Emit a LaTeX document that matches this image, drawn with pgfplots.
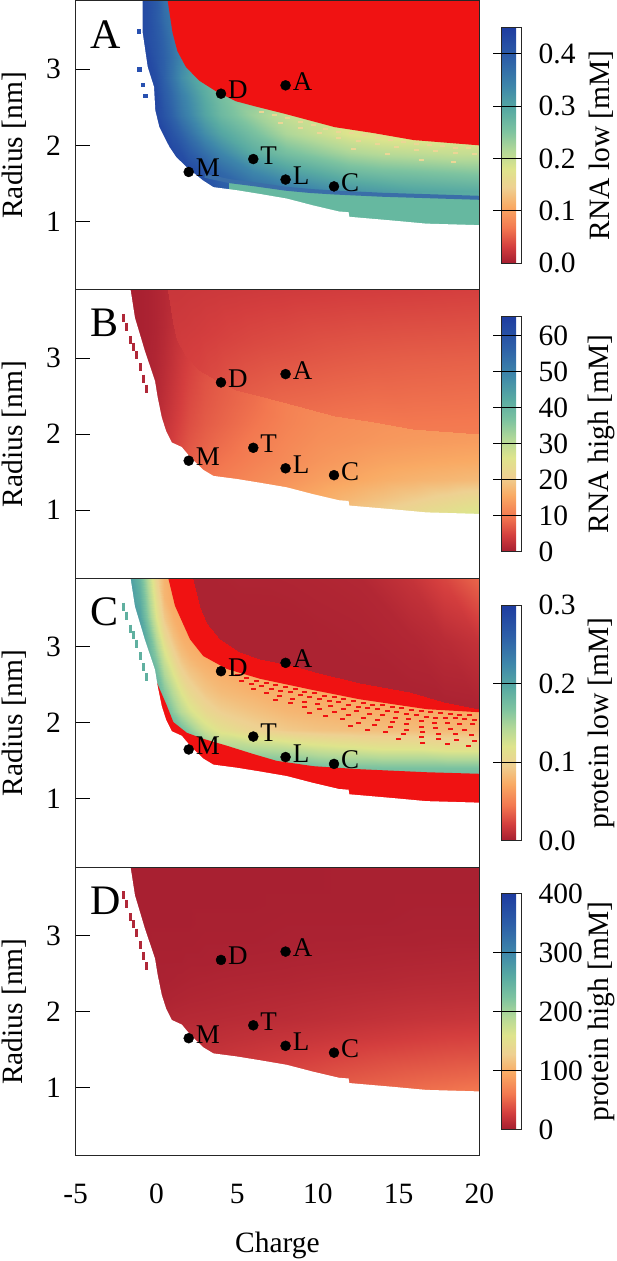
\documentclass[border=0pt]{standalone}
\usepackage{fontspec}
\setmainfont{Liberation Serif}
\usepackage{pgfplots}
\usepackage{pgfplotstable}
\pgfplotsset{compat=1.18}
\definecolor{brred}{RGB}{240,18,18}
\definecolor{subband}{RGB}{102,184,160}
\definecolor{stripe}{RGB}{58,110,168}
\definecolor{paleY}{RGB}{236,214,150}
\newcommand{\fs}{\fontsize{29.5}{30}\selectfont}

% ---------- data ----------
\pgfplotstableread[row sep=\\]{x y v\\
-2 0.9 0.42\\ -1 0.9 0.42\\ -0.5 0.9 0.42\\ 0 0.9 0.42\\ 0.5 0.9 0.42\\ 1 0.9 0.42\\ 1.5 0.9 0.42\\ 2 0.9 0.42\\ 3 0.9 0.42\\ 4 0.9 0.40\\ 6 0.9 0.30\\ 8 0.9 0.28\\ 10 0.9 0.28\\ 12 0.9 0.28\\ 14 0.9 0.28\\ 16 0.9 0.28\\ 18 0.9 0.28\\ 20 0.9 0.28\\
-2 1.15 0.42\\ -1 1.15 0.42\\ -0.5 1.15 0.42\\ 0 1.15 0.42\\ 0.5 1.15 0.42\\ 1 1.15 0.42\\ 1.5 1.15 0.42\\ 2 1.15 0.42\\ 3 1.15 0.42\\ 4 1.15 0.40\\ 6 1.15 0.36\\ 8 1.15 0.33\\ 10 1.15 0.30\\ 12 1.15 0.28\\ 14 1.15 0.28\\ 16 1.15 0.28\\ 18 1.15 0.28\\ 20 1.15 0.28\\
-2 1.4 0.43\\ -1 1.4 0.43\\ -0.5 1.4 0.43\\ 0 1.4 0.43\\ 0.5 1.4 0.43\\ 1 1.4 0.43\\ 1.5 1.4 0.43\\ 2 1.4 0.43\\ 3 1.4 0.42\\ 4 1.4 0.40\\ 6 1.4 0.38\\ 8 1.4 0.36\\ 10 1.4 0.34\\ 12 1.4 0.32\\ 14 1.4 0.31\\ 16 1.4 0.30\\ 18 1.4 0.295\\ 20 1.4 0.29\\
-2 1.65 0.43\\ -1 1.65 0.43\\ -0.5 1.65 0.43\\ 0 1.65 0.43\\ 0.5 1.65 0.43\\ 1 1.65 0.43\\ 1.5 1.65 0.43\\ 2 1.65 0.43\\ 3 1.65 0.41\\ 4 1.65 0.38\\ 6 1.65 0.34\\ 8 1.65 0.31\\ 10 1.65 0.29\\ 12 1.65 0.27\\ 14 1.65 0.26\\ 16 1.65 0.255\\ 18 1.65 0.25\\ 20 1.65 0.245\\
-2 1.9 0.44\\ -1 1.9 0.44\\ -0.5 1.9 0.44\\ 0 1.9 0.44\\ 0.5 1.9 0.44\\ 1 1.9 0.43\\ 1.5 1.9 0.42\\ 2 1.9 0.40\\ 3 1.9 0.37\\ 4 1.9 0.34\\ 6 1.9 0.29\\ 8 1.9 0.26\\ 10 1.9 0.24\\ 12 1.9 0.22\\ 14 1.9 0.21\\ 16 1.9 0.205\\ 18 1.9 0.20\\ 20 1.9 0.20\\
-2 2.15 0.44\\ -1 2.15 0.44\\ -0.5 2.15 0.44\\ 0 2.15 0.44\\ 0.5 2.15 0.43\\ 1 2.15 0.41\\ 1.5 2.15 0.39\\ 2 2.15 0.37\\ 3 2.15 0.33\\ 4 2.15 0.30\\ 6 2.15 0.26\\ 8 2.15 0.22\\ 10 2.15 0.20\\ 12 2.15 0.18\\ 14 2.15 0.17\\ 16 2.15 0.17\\ 18 2.15 0.17\\ 20 2.15 0.17\\
-2 2.4 0.44\\ -1 2.4 0.44\\ -0.5 2.4 0.44\\ 0 2.4 0.43\\ 0.5 2.4 0.41\\ 1 2.4 0.385\\ 1.5 2.4 0.36\\ 2 2.4 0.34\\ 3 2.4 0.30\\ 4 2.4 0.27\\ 6 2.4 0.23\\ 8 2.4 0.20\\ 10 2.4 0.19\\ 12 2.4 0.18\\ 14 2.4 0.17\\ 16 2.4 0.17\\ 18 2.4 0.17\\ 20 2.4 0.17\\
-2 2.65 0.44\\ -1 2.65 0.44\\ -0.5 2.65 0.44\\ 0 2.65 0.43\\ 0.5 2.65 0.40\\ 1 2.65 0.375\\ 1.5 2.65 0.35\\ 2 2.65 0.33\\ 3 2.65 0.29\\ 4 2.65 0.26\\ 6 2.65 0.24\\ 8 2.65 0.22\\ 10 2.65 0.20\\ 12 2.65 0.20\\ 14 2.65 0.20\\ 16 2.65 0.20\\ 18 2.65 0.20\\ 20 2.65 0.20\\
-2 2.9 0.44\\ -1 2.9 0.44\\ -0.5 2.9 0.43\\ 0 2.9 0.42\\ 0.5 2.9 0.39\\ 1 2.9 0.36\\ 1.5 2.9 0.33\\ 2 2.9 0.31\\ 3 2.9 0.28\\ 4 2.9 0.27\\ 6 2.9 0.26\\ 8 2.9 0.25\\ 10 2.9 0.25\\ 12 2.9 0.25\\ 14 2.9 0.25\\ 16 2.9 0.25\\ 18 2.9 0.25\\ 20 2.9 0.25\\
-2 3.15 0.44\\ -1 3.15 0.44\\ -0.5 3.15 0.43\\ 0 3.15 0.41\\ 0.5 3.15 0.39\\ 1 3.15 0.365\\ 1.5 3.15 0.34\\ 2 3.15 0.32\\ 3 3.15 0.30\\ 4 3.15 0.29\\ 6 3.15 0.28\\ 8 3.15 0.28\\ 10 3.15 0.28\\ 12 3.15 0.28\\ 14 3.15 0.28\\ 16 3.15 0.28\\ 18 3.15 0.28\\ 20 3.15 0.28\\
-2 3.4 0.44\\ -1 3.4 0.43\\ -0.5 3.4 0.42\\ 0 3.4 0.405\\ 0.5 3.4 0.385\\ 1 3.4 0.36\\ 1.5 3.4 0.345\\ 2 3.4 0.33\\ 3 3.4 0.31\\ 4 3.4 0.30\\ 6 3.4 0.30\\ 8 3.4 0.30\\ 10 3.4 0.30\\ 12 3.4 0.30\\ 14 3.4 0.30\\ 16 3.4 0.30\\ 18 3.4 0.30\\ 20 3.4 0.30\\
-2 3.65 0.44\\ -1 3.65 0.43\\ -0.5 3.65 0.42\\ 0 3.65 0.40\\ 0.5 3.65 0.375\\ 1 3.65 0.355\\ 1.5 3.65 0.34\\ 2 3.65 0.33\\ 3 3.65 0.31\\ 4 3.65 0.30\\ 6 3.65 0.30\\ 8 3.65 0.30\\ 10 3.65 0.30\\ 12 3.65 0.30\\ 14 3.65 0.30\\ 16 3.65 0.30\\ 18 3.65 0.30\\ 20 3.65 0.30\\
-2 3.9 0.44\\ -1 3.9 0.43\\ -0.5 3.9 0.42\\ 0 3.9 0.40\\ 0.5 3.9 0.37\\ 1 3.9 0.35\\ 1.5 3.9 0.34\\ 2 3.9 0.33\\ 3 3.9 0.31\\ 4 3.9 0.30\\ 6 3.9 0.30\\ 8 3.9 0.30\\ 10 3.9 0.30\\ 12 3.9 0.30\\ 14 3.9 0.30\\ 16 3.9 0.30\\ 18 3.9 0.30\\ 20 3.9 0.30\\
}\tabA

\pgfplotstableread[row sep=\\]{x y v\\
-2 0.9 2\\ -1 0.9 4\\ -0.5 0.9 5\\ 0 0.9 6\\ 0.5 0.9 7\\ 1 0.9 8\\ 1.5 0.9 9\\ 2 0.9 10\\ 3 0.9 11\\ 4 0.9 12\\ 6 0.9 13\\ 8 0.9 15.5\\ 10 0.9 18\\ 12 0.9 20\\ 14 0.9 22\\ 16 0.9 24\\ 18 0.9 26\\ 20 0.9 28\\
-2 1.15 2\\ -1 1.15 4\\ -0.5 1.15 5\\ 0 1.15 6\\ 0.5 1.15 7\\ 1 1.15 8\\ 1.5 1.15 9\\ 2 1.15 10\\ 3 1.15 11\\ 4 1.15 12\\ 6 1.15 13\\ 8 1.15 14.5\\ 10 1.15 16\\ 12 1.15 17.5\\ 14 1.15 19\\ 16 1.15 20.5\\ 18 1.15 22\\ 20 1.15 23.5\\
-2 1.4 2\\ -1 1.4 4\\ -0.5 1.4 5\\ 0 1.4 6\\ 0.5 1.4 7\\ 1 1.4 8\\ 1.5 1.4 9\\ 2 1.4 9.5\\ 3 1.4 10\\ 4 1.4 10.5\\ 6 1.4 11.8\\ 8 1.4 13\\ 10 1.4 14.3\\ 12 1.4 15.3\\ 14 1.4 16.3\\ 16 1.4 17\\ 18 1.4 17.5\\ 20 1.4 18\\
-2 1.65 1.5\\ -1 1.65 3\\ -0.5 1.65 4\\ 0 1.65 5\\ 0.5 1.65 6\\ 1 1.65 6.5\\ 1.5 1.65 7\\ 2 1.65 7.3\\ 3 1.65 8.5\\ 4 1.65 9.5\\ 6 1.65 10.8\\ 8 1.65 12\\ 10 1.65 13.2\\ 12 1.65 14\\ 14 1.65 14.8\\ 16 1.65 15.2\\ 18 1.65 15.5\\ 20 1.65 15.8\\
-2 1.9 0.6\\ -1 1.9 1.0\\ -0.5 1.9 1.5\\ 0 1.9 2.5\\ 0.5 1.9 3.5\\ 1 1.9 4.5\\ 1.5 1.9 5.6\\ 2 1.9 6.6\\ 3 1.9 7.8\\ 4 1.9 8.7\\ 6 1.9 10.2\\ 8 1.9 11.5\\ 10 1.9 12.5\\ 12 1.9 13\\ 14 1.9 13.5\\ 16 1.9 13.8\\ 18 1.9 14\\ 20 1.9 14.2\\
-2 2.15 0.5\\ -1 2.15 0.8\\ -0.5 2.15 1.1\\ 0 2.15 1.8\\ 0.5 2.15 3.0\\ 1 2.15 4.0\\ 1.5 2.15 5.0\\ 2 2.15 6.0\\ 3 2.15 7.2\\ 4 2.15 8.0\\ 6 2.15 9.5\\ 8 2.15 11\\ 10 2.15 12\\ 12 2.15 12.5\\ 14 2.15 13\\ 16 2.15 13.2\\ 18 2.15 13.4\\ 20 2.15 13.6\\
-2 2.4 0.4\\ -1 2.4 0.6\\ -0.5 2.4 0.9\\ 0 2.4 1.5\\ 0.5 2.4 2.5\\ 1 2.4 3.6\\ 1.5 2.4 4.6\\ 2 2.4 5.6\\ 3 2.4 6.8\\ 4 2.4 7.6\\ 6 2.4 9.0\\ 8 2.4 10.8\\ 10 2.4 11.5\\ 12 2.4 12\\ 14 2.4 12\\ 16 2.4 12\\ 18 2.4 12\\ 20 2.4 12\\
-2 2.65 0.3\\ -1 2.65 0.5\\ -0.5 2.65 0.8\\ 0 2.65 1.3\\ 0.5 2.65 2.2\\ 1 2.65 3.3\\ 1.5 2.65 4.3\\ 2 2.65 5.2\\ 3 2.65 6.5\\ 4 2.65 7.3\\ 6 2.65 8.5\\ 8 2.65 9.5\\ 10 2.65 10\\ 12 2.65 10\\ 14 2.65 10\\ 16 2.65 10\\ 18 2.65 10\\ 20 2.65 10\\
-2 2.9 0.3\\ -1 2.9 0.4\\ -0.5 2.9 0.7\\ 0 2.9 1.2\\ 0.5 2.9 2.0\\ 1 2.9 3.0\\ 1.5 2.9 4.0\\ 2 2.9 4.8\\ 3 2.9 6.0\\ 4 2.9 6.8\\ 6 2.9 7.5\\ 8 2.9 8\\ 10 2.9 8\\ 12 2.9 8\\ 14 2.9 8\\ 16 2.9 8\\ 18 2.9 8\\ 20 2.9 8\\
-2 3.15 0.3\\ -1 3.15 0.4\\ -0.5 3.15 0.7\\ 0 3.15 1.1\\ 0.5 3.15 1.8\\ 1 3.15 2.8\\ 1.5 3.15 3.6\\ 2 3.15 4.3\\ 3 3.15 5.2\\ 4 3.15 6\\ 6 3.15 6\\ 8 3.15 6\\ 10 3.15 6\\ 12 3.15 6\\ 14 3.15 6\\ 16 3.15 6\\ 18 3.15 6\\ 20 3.15 6\\
-2 3.4 0.3\\ -1 3.4 0.4\\ -0.5 3.4 0.6\\ 0 3.4 1.0\\ 0.5 3.4 1.6\\ 1 3.4 2.5\\ 1.5 3.4 3.2\\ 2 3.4 3.8\\ 3 3.4 4.5\\ 4 3.4 5\\ 6 3.4 5\\ 8 3.4 5\\ 10 3.4 5\\ 12 3.4 5\\ 14 3.4 5\\ 16 3.4 5\\ 18 3.4 5\\ 20 3.4 5\\
-2 3.65 0.3\\ -1 3.65 0.4\\ -0.5 3.65 0.6\\ 0 3.65 1.0\\ 0.5 3.65 1.5\\ 1 3.65 2.2\\ 1.5 3.65 2.8\\ 2 3.65 3.3\\ 3 3.65 4\\ 4 3.65 4.5\\ 6 3.65 4.5\\ 8 3.65 4.5\\ 10 3.65 4.5\\ 12 3.65 4.5\\ 14 3.65 4.5\\ 16 3.65 4.5\\ 18 3.65 4.5\\ 20 3.65 4.5\\
-2 3.9 0.3\\ -1 3.9 0.4\\ -0.5 3.9 0.6\\ 0 3.9 1.0\\ 0.5 3.9 1.5\\ 1 3.9 2.0\\ 1.5 3.9 2.5\\ 2 3.9 3.0\\ 3 3.9 3.5\\ 4 3.9 4\\ 6 3.9 4\\ 8 3.9 4\\ 10 3.9 4\\ 12 3.9 4\\ 14 3.9 4\\ 16 3.9 4\\ 18 3.9 4\\ 20 3.9 4\\
}\tabB

\pgfplotstableread[row sep=\\]{x y v\\
0.7 3.9 3.5\\ 1.0 3.48 3.8\\ 1.3 3.24 4.0\\ 1.83 3.03 4.5\\ 2.66 2.85 5.0\\ 3.7 2.71 5.8\\ 4.93 2.58 6.8\\ 6.17 2.51 7.5\\ 7.87 2.42 8.3\\ 11.04 2.24 9.3\\ 13.5 2.16 9.8\\ 15.92 2.07 10.0\\ 20 2.0 10.3\\
0.7 3.9 3.5\\ 1.0 3.69 3.7\\ 1.3 3.57 3.8\\ 1.83 3.465 4.0\\ 2.66 3.375 4.3\\ 3.7 3.305 4.7\\ 4.93 3.24 5.2\\ 6.17 3.205 5.6\\ 7.87 3.16 6.0\\ 11.04 3.07 6.8\\ 13.5 3.03 7.2\\ 15.92 2.985 7.5\\ 20 2.95 7.8\\
0.7 3.9 3.5\\ 1.0 3.9 3.5\\ 1.3 3.9 3.5\\ 1.83 3.9 3.6\\ 2.66 3.9 3.7\\ 3.7 3.9 3.8\\ 4.93 3.9 3.9\\ 6.17 3.9 4.0\\ 7.87 3.9 4.1\\ 11.04 3.9 4.3\\ 13.5 3.9 4.4\\ 15.92 3.9 4.5\\ 20 3.9 4.7\\
}\tabBup

\pgfplotstableread[row sep=\\]{x y v\\
-2 0.9 0.19\\ -1 0.9 0.19\\ -0.5 0.9 0.19\\ 0 0.9 0.19\\ 0.5 0.9 0.19\\ 1 0.9 0.19\\ 1.5 0.9 0.19\\ 2 0.9 0.19\\ 3 0.9 0.19\\ 4 0.9 0.19\\ 6 0.9 0.19\\ 8 0.9 0.19\\ 10 0.9 0.19\\ 12 0.9 0.19\\ 14 0.9 0.19\\ 16 0.9 0.19\\ 18 0.9 0.19\\ 20 0.9 0.19\\
-2 1.15 0.19\\ -1 1.15 0.19\\ -0.5 1.15 0.19\\ 0 1.15 0.19\\ 0.5 1.15 0.19\\ 1 1.15 0.19\\ 1.5 1.15 0.19\\ 2 1.15 0.19\\ 3 1.15 0.19\\ 4 1.15 0.19\\ 6 1.15 0.19\\ 8 1.15 0.19\\ 10 1.15 0.19\\ 12 1.15 0.19\\ 14 1.15 0.19\\ 16 1.15 0.19\\ 18 1.15 0.19\\ 20 1.15 0.19\\
-2 1.4 0.22\\ -1 1.4 0.22\\ -0.5 1.4 0.22\\ 0 1.4 0.22\\ 0.5 1.4 0.21\\ 1 1.4 0.20\\ 1.5 1.4 0.20\\ 2 1.4 0.20\\ 3 1.4 0.19\\ 4 1.4 0.19\\ 6 1.4 0.18\\ 8 1.4 0.18\\ 10 1.4 0.175\\ 12 1.4 0.17\\ 14 1.4 0.17\\ 16 1.4 0.17\\ 18 1.4 0.17\\ 20 1.4 0.17\\
-2 1.65 0.22\\ -1 1.65 0.22\\ -0.5 1.65 0.22\\ 0 1.65 0.22\\ 0.5 1.65 0.21\\ 1 1.65 0.20\\ 1.5 1.65 0.20\\ 2 1.65 0.19\\ 3 1.65 0.17\\ 4 1.65 0.15\\ 6 1.65 0.145\\ 8 1.65 0.14\\ 10 1.65 0.13\\ 12 1.65 0.125\\ 14 1.65 0.12\\ 16 1.65 0.12\\ 18 1.65 0.115\\ 20 1.65 0.115\\
-2 1.9 0.22\\ -1 1.9 0.22\\ -0.5 1.9 0.22\\ 0 1.9 0.21\\ 0.5 1.9 0.20\\ 1 1.9 0.19\\ 1.5 1.9 0.175\\ 2 1.9 0.16\\ 3 1.9 0.13\\ 4 1.9 0.115\\ 6 1.9 0.10\\ 8 1.9 0.092\\ 10 1.9 0.088\\ 12 1.9 0.086\\ 14 1.9 0.085\\ 16 1.9 0.084\\ 18 1.9 0.082\\ 20 1.9 0.08\\
-2 2.15 0.22\\ -1 2.15 0.21\\ -0.5 2.15 0.20\\ 0 2.15 0.195\\ 0.5 2.15 0.185\\ 1 2.15 0.16\\ 1.5 2.15 0.14\\ 2 2.15 0.125\\ 3 2.15 0.105\\ 4 2.15 0.095\\ 6 2.15 0.087\\ 8 2.15 0.08\\ 10 2.15 0.077\\ 12 2.15 0.075\\ 14 2.15 0.074\\ 16 2.15 0.073\\ 18 2.15 0.072\\ 20 2.15 0.072\\
-2 2.4 0.22\\ -1 2.4 0.21\\ -0.5 2.4 0.20\\ 0 2.4 0.19\\ 0.5 2.4 0.165\\ 1 2.4 0.14\\ 1.5 2.4 0.12\\ 2 2.4 0.105\\ 3 2.4 0.09\\ 4 2.4 0.083\\ 6 2.4 0.077\\ 8 2.4 0.074\\ 10 2.4 0.072\\ 12 2.4 0.072\\ 14 2.4 0.072\\ 16 2.4 0.072\\ 18 2.4 0.072\\ 20 2.4 0.072\\
-2 2.65 0.22\\ -1 2.65 0.21\\ -0.5 2.65 0.20\\ 0 2.65 0.18\\ 0.5 2.65 0.145\\ 1 2.65 0.12\\ 1.5 2.65 0.10\\ 2 2.65 0.09\\ 3 2.65 0.08\\ 4 2.65 0.075\\ 6 2.65 0.072\\ 8 2.65 0.072\\ 10 2.65 0.072\\ 12 2.65 0.072\\ 14 2.65 0.072\\ 16 2.65 0.072\\ 18 2.65 0.072\\ 20 2.65 0.072\\
-2 2.9 0.22\\ -1 2.9 0.21\\ -0.5 2.9 0.19\\ 0 2.9 0.16\\ 0.5 2.9 0.125\\ 1 2.9 0.10\\ 1.5 2.9 0.085\\ 2 2.9 0.078\\ 3 2.9 0.072\\ 4 2.9 0.072\\ 6 2.9 0.072\\ 8 2.9 0.072\\ 10 2.9 0.072\\ 12 2.9 0.072\\ 14 2.9 0.072\\ 16 2.9 0.072\\ 18 2.9 0.072\\ 20 2.9 0.072\\
-2 3.15 0.22\\ -1 3.15 0.21\\ -0.5 3.15 0.18\\ 0 3.15 0.14\\ 0.5 3.15 0.105\\ 1 3.15 0.085\\ 1.5 3.15 0.075\\ 2 3.15 0.072\\ 3 3.15 0.072\\ 4 3.15 0.072\\ 6 3.15 0.072\\ 8 3.15 0.072\\ 10 3.15 0.072\\ 12 3.15 0.072\\ 14 3.15 0.072\\ 16 3.15 0.072\\ 18 3.15 0.072\\ 20 3.15 0.072\\
-2 3.4 0.22\\ -1 3.4 0.20\\ -0.5 3.4 0.16\\ 0 3.4 0.12\\ 0.5 3.4 0.09\\ 1 3.4 0.075\\ 1.5 3.4 0.072\\ 2 3.4 0.072\\ 3 3.4 0.072\\ 4 3.4 0.072\\ 6 3.4 0.072\\ 8 3.4 0.072\\ 10 3.4 0.072\\ 12 3.4 0.072\\ 14 3.4 0.072\\ 16 3.4 0.072\\ 18 3.4 0.072\\ 20 3.4 0.072\\
-2 3.65 0.22\\ -1 3.65 0.19\\ -0.5 3.65 0.15\\ 0 3.65 0.11\\ 0.5 3.65 0.08\\ 1 3.65 0.072\\ 1.5 3.65 0.072\\ 2 3.65 0.072\\ 3 3.65 0.072\\ 4 3.65 0.072\\ 6 3.65 0.072\\ 8 3.65 0.072\\ 10 3.65 0.072\\ 12 3.65 0.072\\ 14 3.65 0.072\\ 16 3.65 0.072\\ 18 3.65 0.072\\ 20 3.65 0.072\\
-2 3.9 0.22\\ -1 3.9 0.18\\ -0.5 3.9 0.14\\ 0 3.9 0.10\\ 0.5 3.9 0.078\\ 1 3.9 0.072\\ 1.5 3.9 0.072\\ 2 3.9 0.072\\ 3 3.9 0.072\\ 4 3.9 0.072\\ 6 3.9 0.072\\ 8 3.9 0.072\\ 10 3.9 0.072\\ 12 3.9 0.072\\ 14 3.9 0.072\\ 16 3.9 0.072\\ 18 3.9 0.072\\ 20 3.9 0.072\\
}\tabC

\pgfplotstableread[row sep=\\]{x y v\\
2.29 3.9 0.003\\ 2.70 3.54 0.003\\ 3.11 3.32 0.003\\ 3.94 3.10 0.003\\ 5.18 2.93 0.003\\ 6.42 2.84 0.003\\ 8.5 2.75 0.003\\ 10.1 2.66 0.003\\ 12.6 2.53 0.003\\ 15.7 2.40 0.003\\ 17.8 2.27 0.003\\ 20 2.18 0.003\\
2.29 3.9 0.003\\ 2.70 3.72 0.003\\ 3.11 3.61 0.003\\ 3.94 3.50 0.003\\ 5.18 3.415 0.003\\ 6.42 3.37 0.003\\ 8.5 3.325 0.003\\ 10.1 3.28 0.0035\\ 12.6 3.215 0.004\\ 15.7 3.15 0.006\\ 17.8 3.085 0.009\\ 20 3.04 0.013\\
2.29 3.9 0.003\\ 2.70 3.9 0.003\\ 3.11 3.9 0.003\\ 3.94 3.9 0.0035\\ 5.18 3.9 0.004\\ 6.42 3.9 0.004\\ 8.5 3.9 0.0045\\ 10.1 3.9 0.005\\ 12.6 3.9 0.006\\ 15.7 3.9 0.014\\ 17.8 3.9 0.024\\ 20 3.9 0.038\\
}\tabCup

\pgfplotstableread[row sep=\\]{x y v\\
-2 0.9 10\\ -1 0.9 12\\ -0.5 0.9 14\\ 0 0.9 16\\ 0.5 0.9 18\\ 1 0.9 20\\ 1.5 0.9 22\\ 2 0.9 24\\ 3 0.9 28\\ 4 0.9 30\\ 6 0.9 34\\ 8 0.9 38\\ 10 0.9 45\\ 12 0.9 50\\ 14 0.9 54\\ 16 0.9 57\\ 18 0.9 60\\ 20 0.9 63\\
-2 1.15 10\\ -1 1.15 12\\ -0.5 1.15 14\\ 0 1.15 16\\ 0.5 1.15 18\\ 1 1.15 20\\ 1.5 1.15 22\\ 2 1.15 24\\ 3 1.15 26\\ 4 1.15 28\\ 6 1.15 30\\ 8 1.15 33\\ 10 1.15 37\\ 12 1.15 41\\ 14 1.15 44\\ 16 1.15 47\\ 18 1.15 49\\ 20 1.15 51\\
-2 1.4 8\\ -1 1.4 10\\ -0.5 1.4 12\\ 0 1.4 13\\ 0.5 1.4 14\\ 1 1.4 15\\ 1.5 1.4 16\\ 2 1.4 17\\ 3 1.4 18\\ 4 1.4 20\\ 6 1.4 23\\ 8 1.4 26\\ 10 1.4 29\\ 12 1.4 32\\ 14 1.4 35\\ 16 1.4 37\\ 18 1.4 39\\ 20 1.4 40\\
-2 1.65 6\\ -1 1.65 8\\ -0.5 1.65 9\\ 0 1.65 10\\ 0.5 1.65 11\\ 1 1.65 12\\ 1.5 1.65 13\\ 2 1.65 14\\ 3 1.65 14.5\\ 4 1.65 15\\ 6 1.65 17\\ 8 1.65 19\\ 10 1.65 21\\ 12 1.65 23\\ 14 1.65 25\\ 16 1.65 27\\ 18 1.65 29\\ 20 1.65 30\\
-2 1.9 4\\ -1 1.9 5\\ -0.5 1.9 6\\ 0 1.9 7\\ 0.5 1.9 8\\ 1 1.9 9\\ 1.5 1.9 9.5\\ 2 1.9 10\\ 3 1.9 10.5\\ 4 1.9 11\\ 6 1.9 12\\ 8 1.9 13\\ 10 1.9 14.5\\ 12 1.9 16\\ 14 1.9 17.5\\ 16 1.9 19\\ 18 1.9 20\\ 20 1.9 21\\
-2 2.15 3\\ -1 2.15 3.5\\ -0.5 2.15 4\\ 0 2.15 4.5\\ 0.5 2.15 5\\ 1 2.15 6\\ 1.5 2.15 6.5\\ 2 2.15 7\\ 3 2.15 7.5\\ 4 2.15 8\\ 6 2.15 9\\ 8 2.15 10\\ 10 2.15 11\\ 12 2.15 12\\ 14 2.15 13\\ 16 2.15 14\\ 18 2.15 14.5\\ 20 2.15 15\\
-2 2.4 2.5\\ -1 2.4 3\\ -0.5 2.4 3\\ 0 2.4 3\\ 0.5 2.4 3.5\\ 1 2.4 4\\ 1.5 2.4 4.5\\ 2 2.4 5\\ 3 2.4 5.5\\ 4 2.4 6\\ 6 2.4 6.5\\ 8 2.4 7\\ 10 2.4 8\\ 12 2.4 8.5\\ 14 2.4 9\\ 16 2.4 10\\ 18 2.4 10.5\\ 20 2.4 11\\
-2 2.65 2\\ -1 2.65 2.5\\ -0.5 2.65 2.5\\ 0 2.65 3\\ 0.5 2.65 3\\ 1 2.65 3\\ 1.5 2.65 3\\ 2 2.65 3.5\\ 3 2.65 3.5\\ 4 2.65 4\\ 6 2.65 4.5\\ 8 2.65 5\\ 10 2.65 5.5\\ 12 2.65 6\\ 14 2.65 6.5\\ 16 2.65 7\\ 18 2.65 7.5\\ 20 2.65 8\\
-2 2.9 2\\ -1 2.9 2\\ -0.5 2.9 2\\ 0 2.9 2.5\\ 0.5 2.9 2.5\\ 1 2.9 2.5\\ 1.5 2.9 2.5\\ 2 2.9 2.5\\ 3 2.9 3\\ 4 2.9 3\\ 6 2.9 3\\ 8 2.9 3.5\\ 10 2.9 4\\ 12 2.9 4\\ 14 2.9 4.5\\ 16 2.9 4.5\\ 18 2.9 5\\ 20 2.9 5\\
-2 3.15 2\\ -1 3.15 2\\ -0.5 3.15 2\\ 0 3.15 2\\ 0.5 3.15 2\\ 1 3.15 2\\ 1.5 3.15 2\\ 2 3.15 2\\ 3 3.15 2.5\\ 4 3.15 2.5\\ 6 3.15 2.5\\ 8 3.15 3\\ 10 3.15 3\\ 12 3.15 3\\ 14 3.15 3\\ 16 3.15 3.5\\ 18 3.15 3.5\\ 20 3.15 3.5\\
-2 3.4 2\\ -1 3.4 2\\ -0.5 3.4 2\\ 0 3.4 2\\ 0.5 3.4 2\\ 1 3.4 2\\ 1.5 3.4 2\\ 2 3.4 2\\ 3 3.4 2\\ 4 3.4 2\\ 6 3.4 2\\ 8 3.4 2.5\\ 10 3.4 2.5\\ 12 3.4 2.5\\ 14 3.4 2.5\\ 16 3.4 3\\ 18 3.4 3\\ 20 3.4 3\\
-2 3.65 2\\ -1 3.65 2\\ -0.5 3.65 2\\ 0 3.65 2\\ 0.5 3.65 2\\ 1 3.65 2\\ 1.5 3.65 2\\ 2 3.65 2\\ 3 3.65 2\\ 4 3.65 2\\ 6 3.65 2\\ 8 3.65 2\\ 10 3.65 2\\ 12 3.65 2.5\\ 14 3.65 2.5\\ 16 3.65 2.5\\ 18 3.65 2.5\\ 20 3.65 2.5\\
-2 3.9 2\\ -1 3.9 2\\ -0.5 3.9 2\\ 0 3.9 2\\ 0.5 3.9 2\\ 1 3.9 2\\ 1.5 3.9 2\\ 2 3.9 2\\ 3 3.9 2\\ 4 3.9 2\\ 6 3.9 2\\ 8 3.9 2\\ 10 3.9 2\\ 12 3.9 2.5\\ 14 3.9 2.5\\ 16 3.9 2.5\\ 18 3.9 2.5\\ 20 3.9 2.5\\
}\tabD

\pgfplotstableread[row sep=\\]{x y lab\\ 2 1.65 M\\ 4 2.68 D\\ 6 1.82 T\\ 8 2.79 A\\ 8 1.55 L\\ 11 1.46 C\\}\pts
\pgfplotstableread[row sep=\\]{x y\\ -2.05 3.53\\ -1.85 3.41\\ -1.6 3.24\\ -1.4 3.15\\ -1.25 3.04\\ -1.0 2.88\\ -0.8 2.73\\ -0.6 2.60\\}\dashes
\pgfplotstableread[row sep=\\]{x y\\ -1.1 3.5\\ -1.07 3.0\\ -0.86 2.8\\ -0.7 2.65\\}\dotsA
\pgfplotstableread[row sep=\\]{x y\\
5.0 2.63\\ 5.6 2.59\\ 6.2 2.55\\ 6.8 2.52\\ 7.4 2.50\\ 8.0 2.47\\ 8.6 2.44\\ 9.2 2.41\\ 9.8 2.39\\ 10.4 2.36\\ 11.0 2.34\\ 11.6 2.31\\ 12.2 2.29\\ 12.8 2.26\\ 13.4 2.24\\ 14.0 2.23\\ 14.6 2.21\\ 15.2 2.19\\ 15.8 2.17\\ 16.4 2.15\\ 17.0 2.14\\ 17.6 2.13\\ 18.2 2.12\\ 18.8 2.11\\ 19.4 2.11\\
5.3 2.55\\ 5.9 2.51\\ 6.5 2.48\\ 7.1 2.45\\ 7.7 2.42\\ 8.3 2.40\\ 8.9 2.37\\ 9.5 2.34\\ 10.1 2.32\\ 10.7 2.29\\ 11.3 2.27\\ 11.9 2.24\\ 12.5 2.21\\ 13.1 2.19\\ 13.7 2.18\\ 14.3 2.16\\ 14.9 2.14\\ 15.5 2.12\\ 16.1 2.10\\ 16.7 2.08\\ 17.3 2.07\\ 17.9 2.07\\ 18.5 2.06\\ 19.1 2.05\\ 19.7 2.04\\
6.0 2.44\\ 6.8 2.39\\ 7.6 2.36\\ 8.4 2.32\\ 9.2 2.28\\ 10.0 2.25\\ 10.8 2.22\\ 11.6 2.18\\ 12.4 2.15\\ 13.2 2.12\\ 14.0 2.10\\ 14.8 2.07\\ 15.6 2.05\\ 16.4 2.02\\ 17.2 2.00\\ 18.0 2.00\\ 18.8 1.99\\ 19.6 1.98\\
7.4 2.30\\ 8.3 2.26\\ 9.2 2.21\\ 10.1 2.18\\ 11.0 2.14\\ 11.9 2.10\\ 12.8 2.06\\ 13.7 2.04\\ 14.6 2.01\\ 15.5 1.98\\ 16.4 1.95\\ 17.3 1.93\\ 18.2 1.92\\ 19.1 1.91\\
9.5 2.13\\ 10.5 2.09\\ 11.5 2.05\\ 12.5 2.00\\ 13.5 1.97\\ 14.5 1.94\\ 15.5 1.91\\ 16.5 1.88\\ 17.5 1.86\\ 18.5 1.85\\ 19.5 1.84\\
12.0 1.96\\ 13.1 1.91\\ 14.2 1.88\\ 15.3 1.85\\ 16.4 1.81\\ 17.5 1.79\\ 18.6 1.78\\ 19.7 1.76\\
15.0 1.79\\ 16.5 1.74\\ 18.0 1.72\\ 19.3 1.70\\
}\speckC
\pgfplotstableread[row sep=\\]{x y\\
6.5 2.44\\ 7.3 2.40\\ 8.1 2.36\\ 8.9 2.31\\ 9.7 2.27\\ 10.5 2.22\\ 11.3 2.18\\ 12.1 2.16\\ 12.9 2.13\\ 13.7 2.10\\ 14.5 2.07\\ 15.3 2.04\\ 16.1 2.02\\ 16.9 2.00\\ 17.7 1.99\\ 18.5 1.97\\ 19.3 1.96\\
7.7 2.30\\ 8.9 2.23\\ 10.1 2.16\\ 11.3 2.10\\ 12.5 2.06\\ 13.7 2.02\\ 14.9 1.98\\ 16.1 1.94\\ 17.3 1.92\\ 18.5 1.90\\ 19.7 1.88\\
12.2 1.95\\ 14.3 1.88\\ 16.4 1.81\\ 18.4 1.78\\
}\speckA

\tikzset{plabel/.style={anchor=base west, inner sep=0pt, font=\fontsize{42}{42}\selectfont}}

\pgfplotsset{
 colormap={spec}{rgb255(0pt)=(165,30,48) rgb255(7pt)=(212,62,62) rgb255(15pt)=(243,120,80) rgb255(24pt)=(249,170,100) rgb255(32pt)=(238,208,145) rgb255(40pt)=(222,228,140) rgb255(48pt)=(178,216,152) rgb255(56pt)=(125,195,160) rgb255(65pt)=(88,170,162) rgb255(75pt)=(62,135,170) rgb255(87pt)=(45,95,168) rgb255(100pt)=(30,60,160)},
 /pgf/number format/assume math mode=true,
 panel/.style={
   scale only axis, width=403.6pt, height=288.75pt,
   xmin=-5, xmax=20, ymin=0.1, ymax=3.9,
   axis on top,
   xtick={-5,0,5,10,15,20}, ytick={1,2,3},
   ytick pos=left, xtick pos=bottom,
   tick align=inside, major tick length=14pt,
   x tick style={draw=none},
   y tick style={black, line width=0.9pt},
   axis line style={black!85, line width=1pt},
   ticklabel style={font=\fs},
   yticklabel style={anchor=east, inner sep=0pt, xshift=-14.7pt},
   xticklabel style={anchor=base, inner sep=0pt, yshift=-47pt},
   ylabel={Radius [nm]},
   ylabel style={font=\fs, at={(axis description cs:-0.153,0.5)}, anchor=center},
   colormap name=spec,
   colorbar,
   colorbar style={
     scale only axis, width=20pt, height=235.5pt, axis on top,
     at={(parent axis.north east)}, anchor=north west, xshift=14pt, yshift=-26.6pt,
     tick align=inside, major tick length=20pt, ytick pos=right, yticklabel pos=right,
     ytick style={black, line width=1pt},
     axis line style={black!85, line width=0.8pt},
     yticklabel style={font=\fs, anchor=west, inner sep=0pt, xshift=16.7pt},
   },
 },
 grid/.style={surf, shader=interp, mesh/cols=18, point meta=explicit},
 pts/.style={only marks, mark=*, mark size=5pt, black, point meta=explicit symbolic, nodes near coords,
   every node near coord/.style={anchor=base west, inner sep=0pt, xshift=7pt, yshift=-5pt, font=\fontsize{27}{27}\selectfont, black}},
 whiteB/.style={fill=white, draw=none},
}

\begin{document}
\begin{tikzpicture}
\path[use as bounding box] (0,0) rectangle (617pt,1261pt);

% ---------------- A ----------------
\begin{axis}[panel, at={(75.7pt,971.25pt)}, anchor=south west, xticklabels={},
  point meta min=0, point meta max=0.45,
  colorbar style={ytick={0,0.1,0.2,0.3,0.4}, yticklabel style={/pgf/number format/fixed, /pgf/number format/fixed zerofill, /pgf/number format/precision=1}}]
\addplot[grid] table[meta=v] {\tabA};
\addplot[fill=subband, draw=none] coordinates {(4.5,0.9) (20,0.9) (20,1.31) (17,1.33) (14,1.35) (11,1.38) (9.5,1.40) (8,1.43) (7,1.46) (6,1.49) (4.5,1.53)};
\addplot[stripe, line width=4pt] coordinates {(3.0,1.60) (4.5,1.53) (6,1.49) (7,1.46) (8,1.43) (9.5,1.40) (11,1.38) (14,1.35) (17,1.33) (20,1.31)};
\addplot[only marks, mark=-, mark size=2.5pt, line width=2pt, paleY] table {\speckA};
\addplot[fill=brred, draw=none] coordinates {(0.7,3.9) (1.0,3.48) (1.3,3.24) (1.83,3.03) (2.66,2.85) (3.7,2.71) (4.93,2.58) (6.17,2.51) (7.87,2.42) (11.04,2.24) (13.5,2.16) (15.92,2.07) (20,2.0) (20,3.9)};
\addplot[whiteB] coordinates {(-5,0.1) (-5,3.9) (-0.85,3.9) (-0.85,3.48) (-0.54,3.03) (-0.15,2.77) (-0.07,2.46) (0.18,2.24) (0.8,1.98) (1.21,1.85) (1.83,1.72) (2.87,1.54) (3.53,1.45) (4.97,1.41) (6.42,1.36) (8.07,1.30) (9.7,1.21) (11.3,1.13) (11.9,1.12) (11.95,1.06) (14.67,1.01) (16.7,0.97) (20,0.95) (20,0.1)};
\addplot[only marks, mark=square*, mark size=1.7pt, color={rgb,255:red,40;green,80;blue,176}] table {\dotsA};
\addplot[pts] table[meta=lab] {\pts};
\node[plabel] at (axis description cs:0.035,0.837) {A};
\end{axis}
\node[rotate=90, font=\fs] at (601pt,1115.6pt) {RNA low [mM]};

% ---------------- B ----------------
\begin{axis}[panel, at={(75.7pt,682.5pt)}, anchor=south west, xticklabels={},
  point meta min=0, point meta max=65.3,
  colorbar style={ytick={0,10,20,30,40,50,60}}]
\addplot[grid] table[meta=v] {\tabB};
\addplot[surf, shader=interp, mesh/cols=13, point meta=explicit] table[meta=v] {\tabBup};
\addplot[whiteB] coordinates {(-5,0.1) (-5,3.9) (-1.6,3.9) (-1.33,3.53) (-0.71,3.09) (-0.09,2.70) (0.08,2.48) (0.33,2.22) (0.6,2.04) (0.95,1.89) (1.57,1.83) (2.08,1.70) (2.9,1.53) (3.53,1.45) (4.97,1.41) (6.42,1.36) (8.07,1.30) (9.7,1.21) (11.3,1.13) (11.9,1.12) (11.95,1.06) (14.67,1.01) (16.7,0.97) (20,0.95) (20,0.1)};
\addplot[only marks, mark=|, mark size=4pt, line width=3pt, color={rgb,255:red,176;green,40;blue,56}] table {\dashes};
\addplot[pts] table[meta=lab] {\pts};
\node[plabel] at (axis description cs:0.035,0.837) {B};
\end{axis}
\node[rotate=90, font=\fs] at (601pt,826.9pt) {RNA high [mM]};

% ---------------- C ----------------
\begin{axis}[panel, at={(75.7pt,393.75pt)}, anchor=south west, xticklabels={},
  point meta min=0, point meta max=0.3,
  colorbar style={ytick={0,0.1,0.2,0.3}, yticklabel style={/pgf/number format/fixed, /pgf/number format/fixed zerofill, /pgf/number format/precision=1}}]
\addplot[grid] table[meta=v] {\tabC};
\addplot[fill=brred, draw=none] coordinates {(0.74,3.9) (1.15,3.54) (2.08,3.10) (2.9,2.88) (4.35,2.71) (6.42,2.58) (9.52,2.44) (12.6,2.31) (16.75,2.18) (20,2.14) (20,3.9)};
\addplot[surf, shader=interp, mesh/cols=12, point meta=explicit] table[meta=v] {\tabCup};
\addplot[only marks, mark=-, mark size=2.5pt, line width=2pt, brred] table {\speckC};
\addplot[fill=brred, draw=none] coordinates {(20,1.33) (16.75,1.35) (12.6,1.39) (9.72,1.43) (7.45,1.50) (6.0,1.59) (4.35,1.70) (2.9,1.79) (1.88,1.87) (1.05,2.01) (0.64,2.23) (0.05,2.52) (-0.5,2.52) (-0.5,0.9) (20,0.9)};
\addplot[whiteB] coordinates {(-5,0.1) (-5,3.9) (-1.6,3.9) (-1.33,3.53) (-0.71,3.09) (-0.09,2.70) (0.08,2.48) (0.33,2.22) (0.6,2.04) (0.95,1.89) (1.57,1.83) (2.08,1.70) (2.9,1.53) (3.53,1.45) (4.97,1.41) (6.42,1.36) (8.07,1.30) (9.7,1.21) (11.3,1.13) (11.9,1.12) (11.95,1.06) (14.67,1.01) (16.7,0.97) (20,0.95) (20,0.1)};
\addplot[only marks, mark=|, mark size=4pt, line width=3pt, color={rgb,255:red,96;green,176;blue,160}] table {\dashes};
\addplot[pts] table[meta=lab] {\pts};
\node[plabel] at (axis description cs:0.035,0.837) {C};
\end{axis}
\node[rotate=90, font=\fs] at (601pt,538.1pt) {protein low [mM]};

% ---------------- D ----------------
\begin{axis}[panel, at={(75.7pt,105pt)}, anchor=south west,
  xlabel={Charge}, xlabel style={font=\fs, at={(axis description cs:0.5,0)}, anchor=base, yshift=-96pt},
  point meta min=0, point meta max=400,
  colorbar style={ytick={0,100,200,300,400}}]
\addplot[grid] table[meta=v] {\tabD};
\addplot[whiteB] coordinates {(-5,0.1) (-5,3.9) (-1.6,3.9) (-1.33,3.53) (-0.71,3.09) (-0.09,2.70) (0.08,2.48) (0.33,2.22) (0.6,2.04) (0.95,1.89) (1.57,1.83) (2.08,1.70) (2.9,1.53) (3.53,1.45) (4.97,1.41) (6.42,1.36) (8.07,1.30) (9.7,1.21) (11.3,1.13) (11.9,1.12) (11.95,1.06) (14.67,1.01) (16.7,0.97) (20,0.95) (20,0.1)};
\addplot[only marks, mark=|, mark size=4pt, line width=3pt, color={rgb,255:red,176;green,40;blue,56}] table {\dashes};
\addplot[pts] table[meta=lab] {\pts};
\node[plabel] at (axis description cs:0.035,0.837) {D};
\end{axis}
\node[rotate=90, font=\fs] at (601pt,249.4pt) {protein high [mM]};

% tick marks on the panels' left edge and across the colour bars
\foreach \b in {971.25,682.5,393.75,105} {
  \foreach \t in {68.39,144.38,220.36} {
    \draw[black, line width=0.9pt] (75.7pt,{\b pt+\t pt}) -- ++(14pt,0pt);
  }
}
\foreach \y in {1050.23,1102.57,1154.9,1207.23,745.21,781.28,817.34,853.41,889.47,925.53,498.9,577.4,190.53,249.4,308.28} {
  \draw[black, line width=1pt] (493.3pt,\y pt) -- (513.3pt,\y pt);
}
\end{tikzpicture}
\end{document}
